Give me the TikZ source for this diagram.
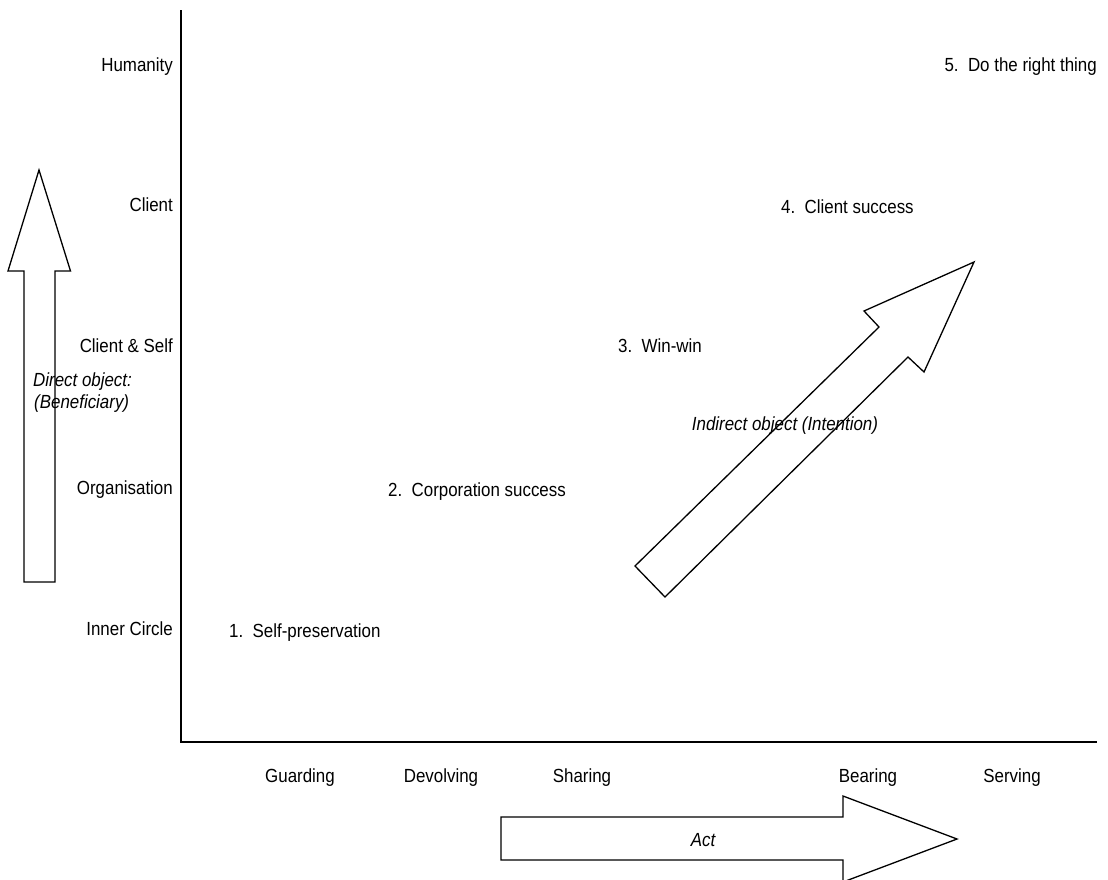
\documentclass[tikz,border=0pt]{standalone}
\usepackage{fontspec}
\setmainfont{Liberation Sans}[FakeStretch=0.89]
\begin{document}
\begin{tikzpicture}[x=1pt,y=-1pt,
  lbl/.style={inner sep=0pt,font=\fontsize{19}{22}\selectfont,text height=1.2ex,text depth=0pt},
  ilbl/.style={lbl,font=\fontsize{19}{22}\selectfont\itshape},
  axis/.style={line width=1.3pt},
  blockarrow/.style={draw=black,fill=white,line width=1.3pt,line join=miter}]
\useasboundingbox (0,0) rectangle (1108,879);

% axes
\coordinate (top) at (181,10);
\coordinate (origin) at (181,742);
\coordinate (right) at (1097,742);
\draw[axis] (top) -- (origin) -- (right);

% vertical "Direct object" block arrow
\draw[blockarrow] (39,170) -- (70.5,271) -- (55,271) -- (55,582) -- (24,582) -- (24,271) -- (8,271) -- cycle;

% diagonal "Indirect object" block arrow
\draw[blockarrow] (635,566) -- (879,327) -- (864,311) -- (974,262) -- (924,372) -- (908,357) -- (665,597) -- cycle;

% horizontal "Act" block arrow
\draw[blockarrow] (501,817) -- (843,817) -- (843,796) -- (957,839) -- (843,882) -- (843,860) -- (501,860) -- cycle;

% beneficiary levels
\node[lbl,anchor=east] (humanity) at (173,68) {Humanity};
\node[lbl,anchor=east] (client) at (173,208) {Client};
\node[lbl,anchor=east] (clientself) at (173,349) {Client \& Self};
\node[lbl,anchor=east] (organisation) at (173,491) {Organisation};
\node[lbl,anchor=east] (inner) at (173,632) {Inner Circle};

% acts
\node[lbl] (guarding) at (300,779) {Guarding};
\node[lbl] (devolving) at (441,779) {Devolving};
\node[lbl] (sharing) at (582,779) {Sharing};
\node[lbl] (bearing) at (868,779) {Bearing};
\node[lbl] (serving) at (1012,779) {Serving};

% stages
\node[lbl,anchor=west] (s1) at (229,634) {1.\ \ Self-preservation};
\node[lbl,anchor=west] (s2) at (388,493) {2.\ \ Corporation success};
\node[lbl,anchor=west] (s3) at (618,349) {3.\ \ Win-win};
\node[lbl,anchor=west] (s4) at (781,210) {4.\ \ Client success};
\node[lbl,anchor=east] (s5) at (1097,68) {5.\ \ Do the right thing};

% arrow captions
\node[ilbl,anchor=west] (direct) at (33,383) {Direct object:};
\node[ilbl,anchor=west] (benef) at (34,405) {(Beneficiary)};
\node[ilbl] (indirect) at (785,427) {Indirect object (Intention)};
\node[ilbl] (act) at (703,843) {Act};
\end{tikzpicture}
\end{document}
